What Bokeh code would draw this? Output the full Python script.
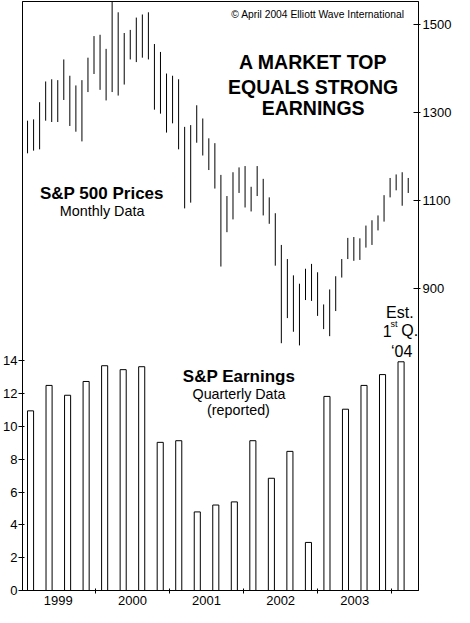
from bokeh.plotting import figure
from bokeh.models import Range1d, LinearAxis, FixedTicker, Label, ColumnDataSource
from bokeh.embed import file_html
from bokeh.resources import INLINE

# ---------------- data ----------------
# S&P 500 monthly high / low, Jan 1999 .. Apr 2004
start_year = 1999
price_high = [1281, 1284, 1323, 1370, 1375, 1373, 1420, 1383, 1361, 1373, 1424, 1473,
              1476, 1444, 1553, 1527, 1480, 1487, 1515, 1522, 1527, 1455, 1437, 1388,
              1383, 1375, 1267, 1271, 1316, 1286, 1241, 1230, 1158, 1110, 1164, 1175,
              1178, 1131, 1178, 1149, 1107, 1071, 999, 967, 930, 911, 945, 956,
              937, 864, 898, 928, 967, 1015, 1017, 1014, 1043, 1055, 1066, 1112,
              1151, 1159, 1164, 1151]
price_low = [1207, 1213, 1216, 1281, 1278, 1278, 1328, 1269, 1256, 1234, 1346, 1387,
             1351, 1327, 1346, 1338, 1363, 1420, 1414, 1424, 1420, 1306, 1297, 1254,
             1275, 1216, 1082, 1095, 1231, 1202, 1169, 1127, 950, 1028, 1057, 1117,
             1084, 1075, 1110, 1066, 1047, 952, 776, 833, 802, 771, 874, 872,
             838, 808, 792, 849, 925, 967, 963, 965, 993, 999, 1032, 1052,
             1107, 1123, 1088, 1117]
months = [f"{start_year + i // 12}-{i % 12 + 1:02d}" for i in range(len(price_high))]

# S&P quarterly reported earnings, 1999 Q1 .. 2004 Q1 (est.)
quarters = [f"{start_year + i // 4}Q{i % 4 + 1}" for i in range(21)]
earnings = [10.95, 12.5, 11.9, 12.74, 13.7, 13.46, 13.64, 9.03, 9.13, 4.79, 5.21,
            5.40, 9.13, 6.84, 8.48, 2.93, 11.83, 11.05, 12.5, 13.16, 13.94]

year_labels = ["1999", "2000", "2001", "2002", "2003"]
year_bounds = [2000, 2001, 2002, 2003, 2004]
earn_ticks = [0, 2, 4, 6, 8, 10, 12, 14]
price_ticks = [900, 1100, 1300, 1500]

# ---------------- derived positions ----------------
month_idx = [int(m[:4]) * 12 + int(m[5:]) - 1 - start_year * 12 for m in months]
q_x = [int(q[:4]) + (int(q[5]) - 0.5) / 4.0 for q in quarters]
label_x = [int(y) + 0.5 for y in year_labels]

FONT = "Liberation Sans"

p = figure(width=454, height=607, output_backend="svg", toolbar_location=None,
           x_range=Range1d(1999.0165, 2004.3603), y_range=Range1d(0, 35.9),
           min_border_left=0, min_border_right=0, min_border_top=1, min_border_bottom=0,
           background_fill_color="white", border_fill_color="white",
           outline_line_color="black", outline_line_width=1)
p.extra_x_ranges = {"months": Range1d(-0.834, 64.70)}
p.extra_y_ranges = {"price": Range1d(214.8, 1551.5)}
p.xgrid.visible = False
p.ygrid.visible = False

# bottom axis: year labels centred, tick marks at year boundaries
xa = p.xaxis[0]
xa.ticker = FixedTicker(ticks=label_x, minor_ticks=year_bounds)
xa.major_label_overrides = {x: t for x, t in zip(label_x, year_labels)}
xa.major_tick_in = 0
xa.major_tick_out = 0
xa.minor_tick_in = 2
xa.minor_tick_out = 3
xa.minor_tick_line_color = "black"
xa.axis_line_color = "black"
xa.major_label_standoff = 2
xa.major_label_text_font = FONT
xa.major_label_text_font_size = "13px"
xa.major_label_text_color = "black"

# left axis: earnings
ya = p.yaxis[0]
ya.ticker = FixedTicker(ticks=earn_ticks, minor_ticks=[])
ya.major_tick_in = 2
ya.major_tick_out = 4
ya.minor_tick_in = 0
ya.minor_tick_out = 0
ya.major_tick_line_color = "black"
ya.axis_line_color = "black"
ya.major_label_standoff = 1
ya.major_label_text_font = FONT
ya.major_label_text_font_size = "13px"
ya.major_label_text_color = "black"

# right axis: prices
ra = LinearAxis(y_range_name="price", ticker=FixedTicker(ticks=price_ticks, minor_ticks=[]))
ra.major_tick_in = 5
ra.major_tick_out = 2
ra.minor_tick_in = 0
ra.minor_tick_out = 0
ra.major_tick_line_color = "black"
ra.axis_line_color = "black"
ra.major_label_standoff = 2
ra.major_label_text_font = FONT
ra.major_label_text_font_size = "13px"
ra.major_label_text_color = "black"
p.add_layout(ra, "right")

# earnings bars
esrc = ColumnDataSource(dict(x=q_x, top=earnings))
p.vbar(x="x", top="top", bottom=0, width=0.082, source=esrc,
       fill_color="white", line_color="black", line_width=1)

# price high-low bars
psrc = ColumnDataSource(dict(x=month_idx, hi=price_high, lo=price_low))
p.segment(x0="x", y0="lo", x1="x", y1="hi", source=psrc,
          x_range_name="months", y_range_name="price",
          line_color="black", line_width=1)

def lab(x, y, text, size, style="normal", align="center"):
    p.add_layout(Label(x=x, y=y, text=text, text_font=FONT, text_font_size=size,
                       text_font_style=style, text_align=align,
                       text_baseline="alphabetic", text_color="black"))

lab(2003.003, 35.135, "\u00a9 April 2004 Elliott Wave International", "10.3px")
lab(2002.938, 32.212, "A MARKET TOP", "19.5px", "bold")
lab(2002.938, 30.709, "EQUALS STRONG", "19.5px", "bold")
lab(2002.938, 29.405, "EARNINGS", "19.5px", "bold")
lab(2000.088, 24.203, "S&P 500 Prices", "17px", "bold")
lab(2000.091, 23.151, "Monthly Data", "14.4px")
lab(2001.938, 13.019, "S&P Earnings", "17px", "bold")
lab(2001.938, 11.966, "Quarterly Data", "14.3px")
lab(2001.931, 10.998, "(reported)", "14.3px")
lab(2004.108, 16.94, "Est.", "16px")
lab(2003.879, 15.83, "1", "16px", align="left")
lab(2003.984, 16.27, "st", "9px", align="left")
lab(2004.128, 15.83, "Q.", "16px", align="left")
lab(2004.134, 14.59, "\u201804", "16px")

open("out.html", "w").write(file_html(p, INLINE))
